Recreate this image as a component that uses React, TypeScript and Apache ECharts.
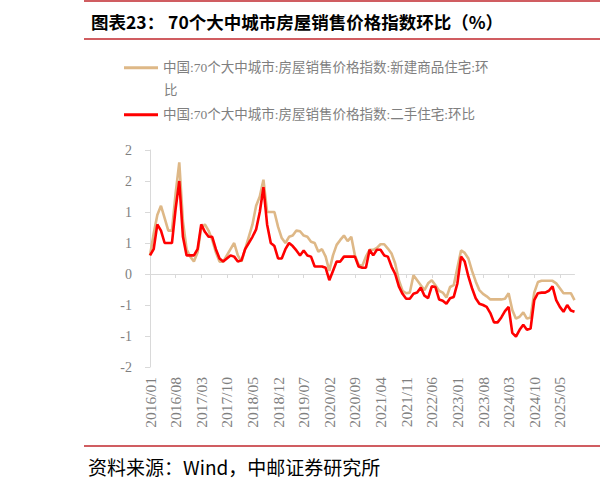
import React, { useEffect, useRef } from 'react';
import * as echarts from 'echarts';

// Monthly categories 2016/01 .. 2025/09
const categories: string[] = [];
for (let y = 2016; y <= 2025; y++) {
  for (let m = 1; m <= 12; m++) {
    if (y === 2025 && m > 9) break;
    categories.push(`${y}/${String(m).padStart(2, '0')}`);
  }
}

const NAME_NEW = '中国:70个大中城市:房屋销售价格指数:新建商品住宅:环比';
const NAME_SECOND = '中国:70个大中城市:房屋销售价格指数:二手住宅:环比';

const newHome: number[] = [
  0.30, 0.65, 0.95, 1.10, 0.90, 0.70, 0.70, 1.30, 1.80, 0.85,
  0.40, 0.28, 0.20, 0.35, 0.75, 0.80, 0.70, 0.55, 0.35, 0.20,
  0.20, 0.30, 0.40, 0.50, 0.30, 0.20, 0.40, 0.60, 0.80, 1.10,
  1.25, 1.52, 1.00, 1.00, 1.00, 0.76, 0.58, 0.50, 0.60, 0.62,
  0.70, 0.69, 0.62, 0.60, 0.52, 0.50, 0.36, 0.40, 0.28, 0.05,
  0.30, 0.47, 0.55, 0.62, 0.53, 0.60, 0.30, 0.15, 0.13, 0.28,
  0.39, 0.39, 0.42, 0.48, 0.48, 0.41, 0.33, 0.17, -0.10, -0.27,
  -0.31, -0.30, -0.02, -0.10, -0.18, -0.26, -0.15, -0.10, -0.18, -0.27,
  -0.30, -0.38, -0.21, -0.18, 0.10, 0.38, 0.34, 0.25, 0.05, -0.12,
  -0.26, -0.32, -0.36, -0.41, -0.41, -0.41, -0.41, -0.40, -0.31, -0.58,
  -0.72, -0.69, -0.62, -0.72, -0.70, -0.30, -0.13, -0.11, -0.11, -0.11,
  -0.11, -0.15, -0.23, -0.31, -0.31, -0.31, -0.42,
];

const secondHand: number[] = [
  0.30, 0.40, 0.80, 0.70, 0.50, 0.50, 0.50, 1.05, 1.50, 0.60,
  0.30, 0.30, 0.30, 0.40, 0.80, 0.68, 0.60, 0.60, 0.40, 0.25,
  0.20, 0.25, 0.30, 0.28, 0.20, 0.22, 0.40, 0.50, 0.60, 0.72,
  1.00, 1.40, 0.80, 0.50, 0.45, 0.25, 0.25, 0.40, 0.50, 0.45,
  0.38, 0.30, 0.38, 0.30, 0.28, 0.12, 0.12, 0.12, 0.10, -0.10,
  0.05, 0.20, 0.20, 0.28, 0.28, 0.28, 0.28, 0.12, 0.10, 0.10,
  0.39, 0.30, 0.39, 0.39, 0.30, 0.28, 0.12, 0.00, -0.20, -0.32,
  -0.40, -0.40, -0.32, -0.30, -0.22, -0.35, -0.39, -0.20, -0.21, -0.41,
  -0.43, -0.48, -0.39, -0.37, -0.15, 0.28, 0.20, -0.04, -0.23, -0.39,
  -0.48, -0.50, -0.53, -0.63, -0.78, -0.78, -0.70, -0.60, -0.53, -0.95,
  -1.01, -0.90, -0.82, -0.90, -0.88, -0.42, -0.31, -0.30, -0.30, -0.27,
  -0.20, -0.42, -0.53, -0.61, -0.50, -0.59, -0.61,
];

const TITLE = '图表23： 70个大中城市房屋销售价格指数环比（%）';
const SOURCE = '资料来源：Wind，中邮证券研究所';

const SERIF = '"Liberation Serif", "Noto Sans CJK SC", serif';
const SANS = '"Noto Sans CJK SC", sans-serif';
const GRAY = '#7f7f7f';
const AXIS = '#d9d9d9';
const RED_RULE = '#c0272d';
const TAN = '#DEB887';
const RED = '#FF0000';

const fmtY = (v: number) => String(Math.sign(v) * Math.round(Math.abs(v)));

export default function App() {
  const ref = useRef<HTMLDivElement>(null);
  useEffect(() => {
    if (!ref.current) return;
    const chart = echarts.init(ref.current, undefined, { renderer: 'svg' });
    const legendText = { color: GRAY, fontSize: 13.5, fontFamily: SERIF };
    chart.setOption({
      animation: false,
      grid: { left: 150, right: 25.5, top: 150, bottom: 119, containLabel: false },
      legend: [
        {
          data: [NAME_NEW], left: 124, top: 61, padding: 0, icon: 'rect',
          itemWidth: 34, itemHeight: 3, selectedMode: false,
          formatter: () => '中国:70个大中城市:房屋销售价格指数:新建商品住宅:环',
          textStyle: legendText,
        },
        {
          data: [NAME_SECOND], left: 124, top: 108, padding: 0, icon: 'rect',
          itemWidth: 34, itemHeight: 3, selectedMode: false,
          textStyle: legendText,
        },
      ],
      xAxis: [
        {
          type: 'category', data: categories, boundaryGap: false, position: 'bottom',
          axisLine: { show: false, onZero: false }, axisTick: { show: false },
          axisLabel: { interval: 6, rotate: 90, fontSize: 15.5, color: GRAY, fontFamily: SERIF, margin: 10 },
        },
        {
          type: 'category', data: categories, boundaryGap: false, position: 'top',
          axisLine: { show: true, onZero: true, lineStyle: { color: AXIS, width: 1 } },
          axisTick: { show: true, inside: true, interval: 6, length: 4, lineStyle: { color: AXIS } },
          axisLabel: { show: false },
        },
      ],
      yAxis: {
        type: 'value', min: -1.5, max: 2, interval: 0.5,
        axisLine: { show: true, lineStyle: { color: AXIS } },
        axisTick: { show: true, length: 5, lineStyle: { color: AXIS } },
        splitLine: { show: false },
        axisLabel: { formatter: fmtY, fontSize: 14, color: GRAY, fontFamily: SERIF, margin: 18 },
      },
      series: [
        {
          name: NAME_NEW, type: 'line', data: newHome, xAxisIndex: 0, symbol: 'none',
          lineStyle: { color: TAN, width: 2.6 }, itemStyle: { color: TAN },
        },
        {
          name: NAME_SECOND, type: 'line', data: secondHand, xAxisIndex: 0, symbol: 'none',
          lineStyle: { color: RED, width: 2.6 }, itemStyle: { color: RED },
        },
      ],
      graphic: [
        { type: 'line', shape: { x1: 84, y1: 1, x2: 600, y2: 1 }, style: { stroke: RED_RULE, lineWidth: 1.5 } },
        { type: 'line', shape: { x1: 84, y1: 39, x2: 600, y2: 39 }, style: { stroke: RED_RULE, lineWidth: 1.5 } },
        { type: 'line', shape: { x1: 84, y1: 446, x2: 600, y2: 446 }, style: { stroke: RED_RULE, lineWidth: 1.5 } },
        {
          type: 'text', x: 91, y: 21,
          style: { text: TITLE, fontSize: 17.5, fontWeight: 'bold', fill: '#000', fontFamily: SANS, verticalAlign: 'middle', align: 'left' },
        },
        {
          type: 'text', x: 164, y: 90,
          style: { text: '比', fontSize: 13.5, fill: GRAY, fontFamily: SERIF, verticalAlign: 'middle', align: 'left' },
        },
        {
          type: 'text', x: 88, y: 466,
          style: { text: SOURCE, fontSize: 19, fill: '#000', fontFamily: SANS, verticalAlign: 'middle', align: 'left' },
        },
      ],
    });
    return () => chart.dispose();
  }, []);
  return <div ref={ref} style={{ position: 'absolute', left: 0, top: 0, width: 600, height: 486 }} />;
}
